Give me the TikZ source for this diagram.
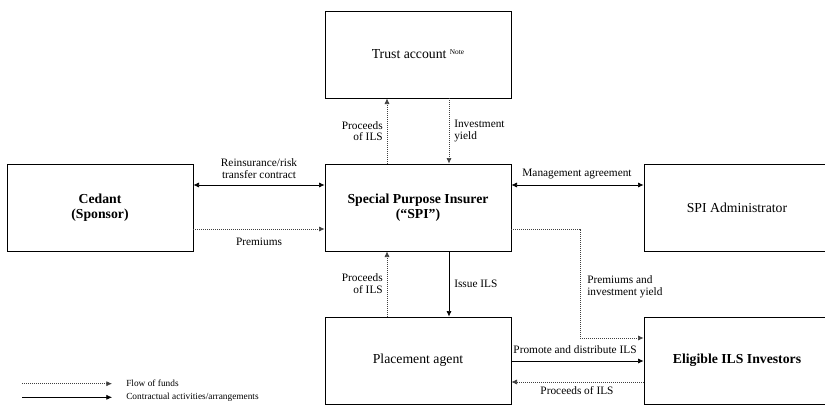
\documentclass[tikz,border=0pt]{standalone}
\usepackage{fontspec}
\setmainfont{Liberation Serif}
\usetikzlibrary{arrows.meta}

\begin{document}
\begin{tikzpicture}[x=0.75pt, y=-0.75pt,
        party/.style={draw, line width=0.6pt, minimum width=139.5pt, minimum height=65.25pt,
            align=center, inner sep=0pt, font=\fontsize{10.3}{11}\selectfont},
        lbl/.style={inner sep=0pt, align=center, font=\fontsize{8.5}{8.6}\selectfont},
        legendtext/.style={inner sep=0pt, anchor=west, font=\fontsize{7}{8}\selectfont},
        contract/.style={line width=0.5pt, -{Latex[length=4.2pt, width=3.8pt]}},
        mutual/.style={line width=0.5pt, {Latex[length=4.2pt, width=3.8pt]}-{Latex[length=4.2pt, width=3.8pt]}},
        funds/.style={line width=0.5pt, black!75, densely dotted, -{Latex[length=4.2pt, width=3.8pt]}}]
    \useasboundingbox (0, 0) rectangle (825, 414);

    % boxes
    \node[party] (trust) at (418, 54.5) {Trust account \raisebox{3pt}{\fontsize{5.5}{6}\selectfont Note}};
    \node[party] (cedant) at (100, 207.5) {\textbf{Cedant}\\\textbf{(Sponsor)}};
    \node[party] (spi) at (418, 207.5) {\textbf{Special Purpose Insurer}\\\textbf{(``SPI'')}};
    \node[party] (admin) at (737, 207.5) {SPI Administrator};
    \node[party] (agent) at (418, 360.5) {Placement agent};
    \node[party] (investors) at (737, 360.5) {\textbf{Eligible ILS Investors}};

    % cedant and spi
    \draw[mutual] (cedant.east |- 0,185) -- (spi.west |- 0,185);
    \node[lbl] (reinsLbl) at (259, 168.8) {Reinsurance/risk\\transfer contract};
    \draw[funds] (cedant.east |- 0,229) -- (spi.west |- 0,229);
    \node[lbl] (premLbl) at (259, 242) {Premiums};

    % spi and trust account
    \draw[funds] (spi.north -| 387,0) -- (trust.south -| 387,0);
    \node[lbl, anchor=east] (procUpLbl) at (383, 131) {\hfill Proceeds\\\hfill of ILS};
    \draw[funds] (trust.south -| 449,0) -- (spi.north -| 449,0);
    \node[lbl, anchor=west, align=left] (yieldLbl) at (454, 131) {Investment\\yield};

    % spi and administrator
    \draw[mutual] (spi.east |- 0,185) -- (admin.west |- 0,185);
    \node[lbl] (mgmtLbl) at (577, 174.3) {Management agreement};

    % spi and placement agent
    \draw[contract] (spi.south -| 449,0) -- (agent.north -| 449,0);
    \node[lbl, anchor=west] (issueLbl) at (454, 284) {Issue ILS};
    \draw[funds] (agent.north -| 387,0) -- (spi.south -| 387,0);
    \node[lbl, anchor=east, align=right] (procDownLbl) at (383, 283.5) {Proceeds\\of ILS};

    % spi and investors
    \coordinate (bend) at (580, 338);
    \draw[funds] (spi.east |- 0,229) -| (bend) -- (investors.west |- bend);
    \node[lbl, anchor=west, align=left] (yieldInvLbl) at (587, 286.7) {Premiums and\\investment yield};

    % placement agent and investors
    \draw[contract] (agent.east |- 0,361) -- (investors.west |- 0,361);
    \node[lbl] (promoteLbl) at (575, 350) {Promote and distribute ILS};
    \draw[funds] (investors.west |- 0,382) -- (agent.east |- 0,382);
    \node[lbl] (procInvLbl) at (577, 391) {Proceeds of ILS};

    % legend
    \coordinate (fundsA) at (22, 383.7);
    \coordinate (fundsB) at (112, 383.7);
    \coordinate (contractA) at (22, 397.3);
    \coordinate (contractB) at (112, 397.3);
    \draw[funds] (fundsA) -- (fundsB);
    \draw[contract] (contractA) -- (contractB);
    \node[legendtext] (fundsTxt) at (126, 383.7) {Flow of funds};
    \node[legendtext] (contractTxt) at (126, 397.3) {Contractual activities/arrangements};
\end{tikzpicture}
\end{document}
